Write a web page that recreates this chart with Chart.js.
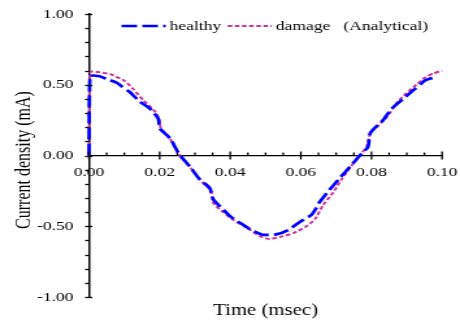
<!DOCTYPE html>
<html>
<head>
<meta charset="utf-8">
<script src="https://cdn.jsdelivr.net/npm/chart.js@4"></script>
<style>
html,body{margin:0;padding:0;background:#fff;}
#c{display:block;width:460px !important;height:322px !important;}
</style>
</head>
<body>
<canvas id="c" width="354" height="322" style="width:460px;height:322px;display:block"></canvas>
<script>
// ---- data ----
const seriesNames = ["healthy", "damage   (Analytical)"];
const xTitle = "Time (msec)";
const yTitle = "Current density (mA)";

const healthyTime = [0, 0.0003, 0.003, 0.005, 0.0078, 0.0092, 0.0116, 0.0144, 0.0173, 0.0196, 0.0201, 0.023, 0.0248, 0.0258, 0.0286, 0.0314, 0.0342, 0.0352, 0.0371, 0.04, 0.0427, 0.046, 0.0493, 0.053, 0.0564, 0.0597, 0.063, 0.0644, 0.065, 0.0682, 0.071, 0.0739, 0.0767, 0.079, 0.0797, 0.0833, 0.0857, 0.089, 0.0918, 0.0942, 0.0951, 0.0975];
const healthyValues = [0, 0.56, 0.56, 0.54, 0.515, 0.49, 0.447, 0.38, 0.33, 0.26, 0.19, 0.12, 0.04, 0, -0.08, -0.17, -0.23, -0.31, -0.36, -0.43, -0.475, -0.527, -0.56, -0.557, -0.527, -0.47, -0.42, -0.37, -0.34, -0.24, -0.16, -0.08, 0, 0.06, 0.16, 0.25, 0.33, 0.40, 0.46, 0.51, 0.53, 0.55];

const damageTime = [0, 0.0003, 0.003, 0.006, 0.0099, 0.0125, 0.0154, 0.0187, 0.0199, 0.0203, 0.0229, 0.0243, 0.0258, 0.0286, 0.0314, 0.0338, 0.0347, 0.0353, 0.038, 0.0409, 0.0446, 0.0484, 0.0512, 0.055, 0.0578, 0.0616, 0.064, 0.0663, 0.0692, 0.0715, 0.0744, 0.0767, 0.0786, 0.0797, 0.0814, 0.0843, 0.0871, 0.0899, 0.0927, 0.0951, 0.0975, 0.1];
const damageValues = [0, 0.59, 0.588, 0.575, 0.53, 0.47, 0.39, 0.31, 0.255, 0.195, 0.12, 0.06, 0, -0.08, -0.17, -0.23, -0.27, -0.34, -0.40, -0.456, -0.51, -0.57, -0.59, -0.57, -0.55, -0.50, -0.45, -0.35, -0.26, -0.17, -0.07, 0, 0.06, 0.16, 0.20, 0.27, 0.37, 0.44, 0.50, 0.55, 0.58, 0.60];

const xRange = [0, 0.1];
const yRange = [-1, 1];
const xMajorStep = 0.02, xMinorStep = 0.005;
const yMajorStep = 0.5, yMinorStep = 0.1;

const pts = (xs, ys) => xs.map((x, i) => ({x: x, y: ys[i]}));
const FONT = "'Liberation Serif', 'Times New Roman', serif";
const noPad = s => { s.paddingTop = 0; s.paddingBottom = 0; s.paddingLeft = 0; s.paddingRight = 0; };

// tick marks, axis titles and legend drawn through the scales
const axisDecor = {
  id: 'axisDecor',
  afterDraw(chart) {
    const ctx = chart.ctx, xs = chart.scales.x, ys = chart.scales.y;
    const left = chart.chartArea.left;
    const y0 = ys.getPixelForValue(0);
    ctx.save();
    ctx.strokeStyle = '#000';
    ctx.lineWidth = 1.3;
    const nY = Math.round((yRange[1] - yRange[0]) / yMinorStep);
    const everyY = Math.round(yMajorStep / yMinorStep);
    for (let i = 0; i <= nY; i++) {
      const v = yRange[0] + i * yMinorStep;
      const p = Math.round(ys.getPixelForValue(v)) + 0.5;
      const major = i % everyY === 0;
      ctx.beginPath();
      ctx.moveTo(left - 3, p);
      ctx.lineTo(major ? left + 2.5 : left, p);
      ctx.stroke();
    }
    const nX = Math.round((xRange[1] - xRange[0]) / xMinorStep);
    const everyX = Math.round(xMajorStep / xMinorStep);
    for (let i = 0; i <= nX; i++) {
      const t = xRange[0] + i * xMinorStep;
      const p = xs.getPixelForValue(t);
      const major = i % everyX === 0;
      ctx.beginPath();
      ctx.moveTo(p, y0 - (major ? 4 : 3));
      ctx.lineTo(p, major ? y0 + 4 : y0);
      ctx.stroke();
    }
    // axis titles
    ctx.fillStyle = '#000';
    ctx.font = '16px ' + FONT;
    ctx.textAlign = 'center';
    ctx.textBaseline = 'alphabetic';
    ctx.fillText(xTitle, (chart.chartArea.left + chart.chartArea.right) / 2, 315);
    ctx.save();
    ctx.translate(23, 160);
    ctx.rotate(-Math.PI / 2);
    ctx.fillText(yTitle, 0, 0);
    ctx.restore();
    // legend
    ctx.font = '13.5px ' + FONT;
    ctx.textAlign = 'left';
    ctx.textBaseline = 'middle';
    const ly = 26;
    let lx = left + 25;
    chart.data.datasets.forEach((ds, i) => {
      ctx.strokeStyle = ds.borderColor;
      ctx.lineWidth = ds.borderWidth;
      ctx.setLineDash(ds.borderDash);
      ctx.beginPath();
      ctx.moveTo(lx, ly);
      ctx.lineTo(lx + 34, ly);
      ctx.stroke();
      ctx.setLineDash([]);
      ctx.fillText(ds.label, lx + 37, ly);
      lx += 37 + ctx.measureText(ds.label).width + 5;
    });
    ctx.restore();
  }
};

new Chart(document.getElementById('c'), {
  type: 'line',
  data: {
    datasets: [
      {label: seriesNames[0], data: pts(healthyTime, healthyValues), borderColor: '#0000FF', borderWidth: 2.7, borderDash: [12, 4], pointRadius: 0, tension: 0.2, fill: false, clip: false},
      {label: seriesNames[1], data: pts(damageTime, damageValues), borderColor: '#CC3399', borderWidth: 2, borderDash: [3.5, 2], pointRadius: 0, tension: 0.2, fill: false, clip: false}
    ]
  },
  options: {
    responsive: false,
    animation: false,
    devicePixelRatio: 1,
    layout: {padding: {left: 0, top: 14, right: 13.8, bottom: 25}},
    plugins: {legend: {display: false}, tooltip: {enabled: false}},
    scales: {
      x: {
        type: 'linear', min: xRange[0], max: xRange[1],
        position: {y: 0},
        afterFit: noPad,
        grid: {display: false, drawTicks: false},
        border: {display: true, color: '#000', width: 1.3},
        ticks: {stepSize: xMajorStep, autoSkip: false, maxRotation: 0, padding: 9, color: '#000', font: {family: FONT, size: 13.5}, callback: v => v.toFixed(2)}
      },
      y: {
        type: 'linear', min: yRange[0], max: yRange[1],
        position: 'left',
        afterFit: s => { s.width = 68.5; noPad(s); },
        grid: {display: false, drawTicks: false},
        border: {display: true, color: '#000', width: 1.5},
        ticks: {stepSize: yMajorStep, padding: 12, color: '#000', font: {family: FONT, size: 13.5}, callback: v => v.toFixed(2)}
      }
    }
  },
  plugins: [axisDecor]
});
</script>
</body>
</html>
